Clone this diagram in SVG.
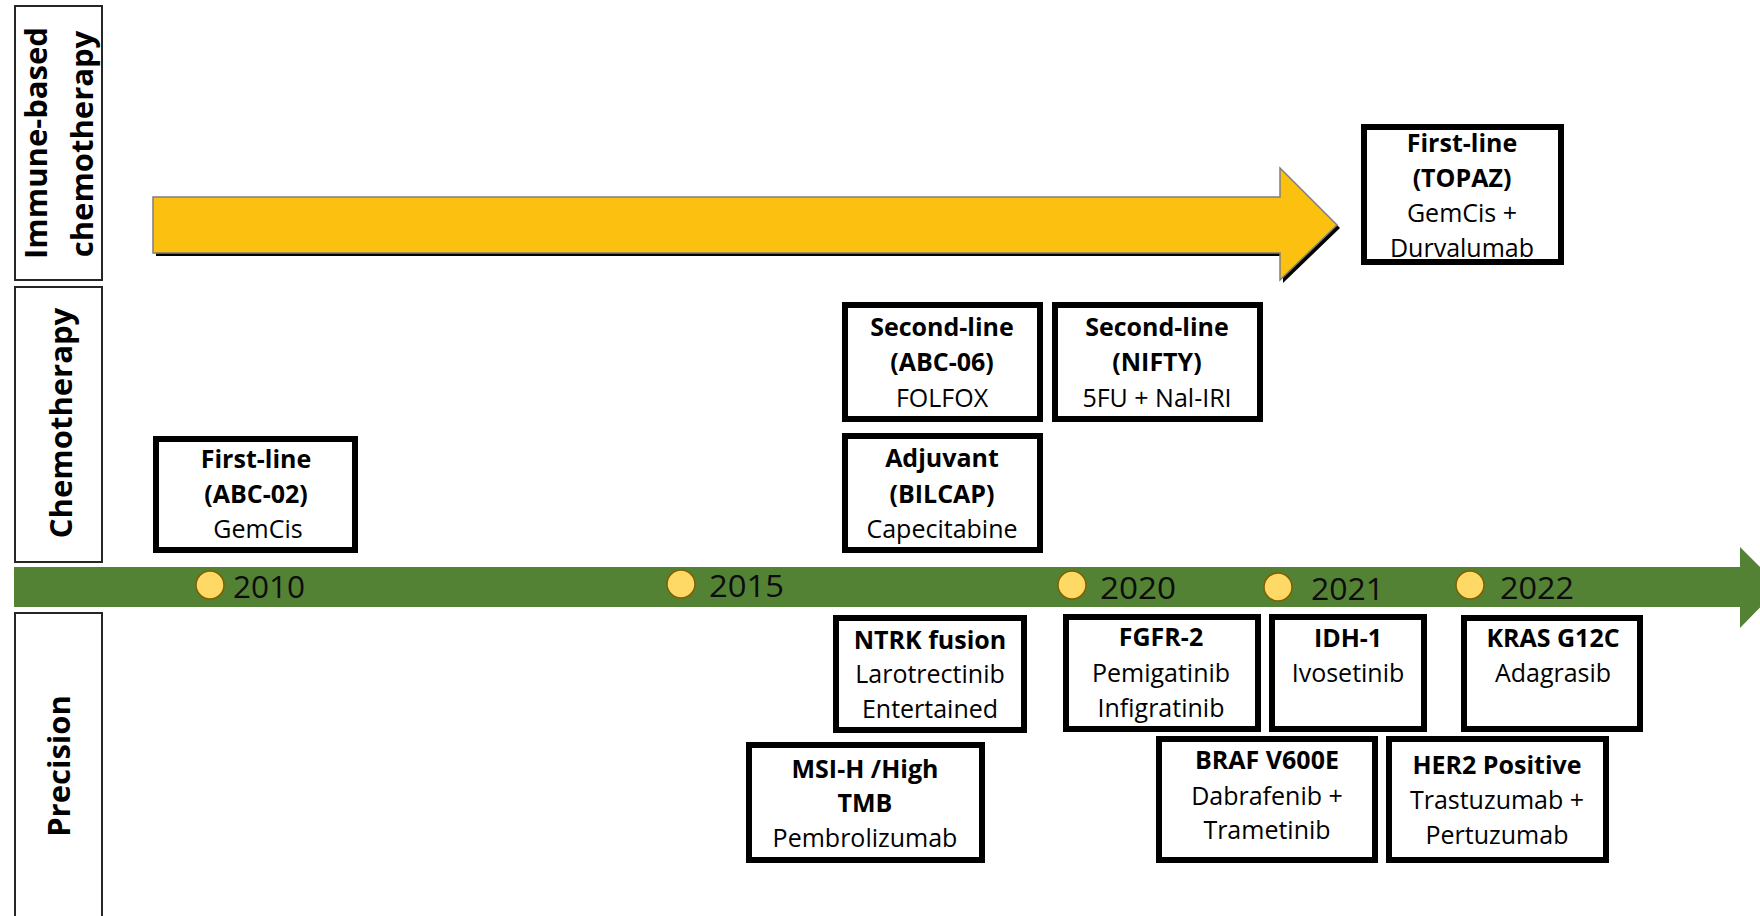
<svg xmlns="http://www.w3.org/2000/svg" width="1760" height="916" viewBox="0 0 1760 916">
<style>
.lane{fill:#fff;stroke:#262626;stroke-width:2}
.lt{font-family:"Open Sans","Liberation Sans",sans-serif;font-weight:bold;font-size:31px;fill:#000;text-anchor:middle}
.box{fill:#fff;stroke:#000;stroke-width:6}
.t{font-family:"Open Sans","Liberation Sans",sans-serif;font-size:25px;fill:#000;text-anchor:middle}
.b{font-weight:bold}
.dot{fill:#FFD965;stroke:#7F6000;stroke-width:1.5}
.yr{font-family:"Open Sans","Liberation Sans",sans-serif;font-size:31px;fill:#0d0d0d}
</style>
<rect width="1760" height="916" fill="#fff"/>

<g id="lanes">
  <g id="lane-immune">
    <rect class="lane" x="15" y="6" width="87" height="274"/>
    <text class="lt" transform="translate(47,143) rotate(-90)">Immune-based</text>
    <text class="lt" transform="translate(93,144) rotate(-90)">chemotherapy</text>
  </g>
  <g id="lane-chemo">
    <rect class="lane" x="15" y="287" width="87" height="275"/>
    <text class="lt" transform="translate(72,423) rotate(-90)">Chemotherapy</text>
  </g>
  <g id="lane-precision">
    <rect class="lane" x="15" y="613" width="87" height="310"/>
    <text class="lt" transform="translate(70,766) rotate(-90)">Precision</text>
  </g>
</g>

<g id="connectors">
  <g id="immune-arrow">
    <polygon points="156,200 1283,200 1283,171 1340,228 1283,283 1283,256 156,256" fill="#000"/>
    <polygon points="153,197 1280,197 1280,168 1337,225 1280,280 1280,253 153,253" fill="#FCC011" stroke="#7f7f7f" stroke-width="1.5"/>
  </g>
  <g id="timeline">
    <polygon points="14,567 1740,567 1740,547 1780,587 1740,628 1740,607 14,607" fill="#548235"/>
  </g>
</g>

<g id="years">
  <g id="y2010"><circle class="dot" cx="210" cy="585" r="14"/><text class="yr" x="233" y="598" textLength="72" lengthAdjust="spacingAndGlyphs">2010</text></g>
  <g id="y2015"><circle class="dot" cx="681" cy="584" r="14"/><text class="yr" x="709" y="597" textLength="75" lengthAdjust="spacingAndGlyphs">2015</text></g>
  <g id="y2020"><circle class="dot" cx="1072" cy="585" r="14"/><text class="yr" x="1100" y="599" textLength="76" lengthAdjust="spacingAndGlyphs">2020</text></g>
  <g id="y2021"><circle class="dot" cx="1278" cy="587" r="14"/><text class="yr" x="1311" y="600" textLength="73" lengthAdjust="spacingAndGlyphs">2021</text></g>
  <g id="y2022"><circle class="dot" cx="1470" cy="585" r="14"/><text class="yr" x="1500" y="599" textLength="74" lengthAdjust="spacingAndGlyphs">2022</text></g>
</g>

<g id="topaz">
  <rect class="box" x="1364" y="127" width="197" height="135"/>
  <text class="t b" x="1462" y="152">First-line</text>
  <text class="t b" x="1462" y="187">(TOPAZ)</text>
  <text class="t" x="1462" y="222">GemCis +</text>
  <text class="t" x="1462" y="257">Durvalumab</text>
</g>

<g id="abc02">
  <rect class="box" x="156" y="439" width="199" height="111"/>
  <text class="t b" x="256" y="468">First-line</text>
  <text class="t b" x="256" y="503">(ABC-02)</text>
  <text class="t" x="258" y="538">GemCis</text>
</g>

<g id="abc06">
  <rect class="box" x="845" y="305" width="195" height="114"/>
  <text class="t b" x="942" y="336">Second-line</text>
  <text class="t b" x="942" y="371">(ABC-06)</text>
  <text class="t" x="942" y="407">FOLFOX</text>
</g>

<g id="nifty">
  <rect class="box" x="1055" y="305" width="205" height="114"/>
  <text class="t b" x="1157" y="336">Second-line</text>
  <text class="t b" x="1157" y="371">(NIFTY)</text>
  <text class="t" x="1157" y="407">5FU + Nal-IRI</text>
</g>

<g id="bilcap">
  <rect class="box" x="845" y="436" width="195" height="114"/>
  <text class="t b" x="942" y="467">Adjuvant</text>
  <text class="t b" x="942" y="503">(BILCAP)</text>
  <text class="t" x="942" y="538">Capecitabine</text>
</g>

<g id="ntrk">
  <rect class="box" x="836" y="618" width="188" height="112"/>
  <text class="t b" x="930" y="649">NTRK fusion</text>
  <text class="t" x="930" y="683">Larotrectinib</text>
  <text class="t" x="930" y="718">Entertained</text>
</g>

<g id="fgfr2">
  <rect class="box" x="1066" y="617" width="192" height="112"/>
  <text class="t b" x="1161" y="646">FGFR-2</text>
  <text class="t" x="1161" y="682">Pemigatinib</text>
  <text class="t" x="1161" y="717">Infigratinib</text>
</g>

<g id="idh1">
  <rect class="box" x="1272" y="617" width="152" height="112"/>
  <text class="t b" x="1348" y="647">IDH-1</text>
  <text class="t" x="1348" y="682">Ivosetinib</text>
</g>

<g id="kras">
  <rect class="box" x="1464" y="618" width="176" height="111"/>
  <text class="t b" x="1553" y="647">KRAS G12C</text>
  <text class="t" x="1553" y="682">Adagrasib</text>
</g>

<g id="msih">
  <rect class="box" x="749" y="745" width="233" height="115"/>
  <text class="t b" x="865" y="778">MSI-H /High</text>
  <text class="t b" x="865" y="812">TMB</text>
  <text class="t" x="865" y="847">Pembrolizumab</text>
</g>

<g id="braf">
  <rect class="box" x="1159" y="739" width="216" height="121"/>
  <text class="t b" x="1267" y="769">BRAF V600E</text>
  <text class="t" x="1267" y="805">Dabrafenib +</text>
  <text class="t" x="1267" y="839">Trametinib</text>
</g>

<g id="her2">
  <rect class="box" x="1389" y="739" width="217" height="121"/>
  <text class="t b" x="1497" y="774">HER2 Positive</text>
  <text class="t" x="1497" y="809">Trastuzumab +</text>
  <text class="t" x="1497" y="844">Pertuzumab</text>
</g>
</svg>
